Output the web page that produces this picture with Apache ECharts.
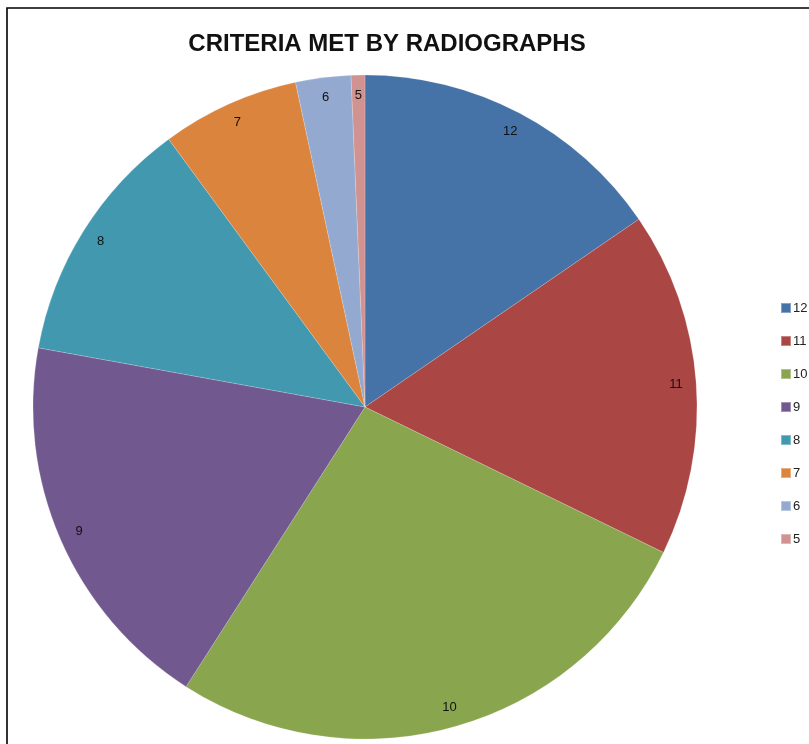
<!DOCTYPE html>
<html><head><meta charset="utf-8">
<script src="https://cdn.jsdelivr.net/npm/echarts@6/dist/echarts.min.js"></script>
<style>html,body{margin:0;padding:0;background:#fff}#c{width:809px;height:744px}</style>
</head><body><div id="c"></div>
<script>
const categories = ['12','11','10','9','8','7','6','5'];
const counts = [23, 25, 40, 28, 18, 10, 4, 1];
const colors = ['#4572A7','#AA4643','#89A54E','#71588F','#4198AF','#DB843D','#93A9CF','#D19392'];
const titleText = 'CRITERIA MET BY RADIOGRAPHS';

const chart = echarts.init(document.getElementById('c'));
const R = 332;
const data = categories.map((c,i)=>({name:c, value:counts[i], itemStyle:{color:colors[i]}}));
const labelData = categories.map((c,i)=>({name:c, value:counts[i]}));
chart.setOption({
  animation:false,
  backgroundColor:'#fff',
  title:{text:titleText, left:382, top:27, textAlign:'center',
    textStyle:{fontFamily:'Liberation Sans', fontWeight:'bold', fontSize:24, color:'#111'}},
  graphic:[{type:'rect', shape:{x:7, y:8, width:900, height:900},
    style:{fill:'none', stroke:'#000', lineWidth:1.6}, silent:true, z:100}],
  legend:{orient:'vertical', left:780, top:301, padding:0, itemWidth:10, itemHeight:10, itemGap:19,
    icon:'rect',
    data:categories.map((c,i)=>({name:c, itemStyle:{color:colors[i]}})),
    textStyle:{fontFamily:'Liberation Sans', fontSize:13, color:'#222', lineHeight:14, padding:[0,0,0,-3]}},
  series:[
    {type:'pie', center:[365,407], radius:[0,R], startAngle:90, clockwise:true,
     silent:true, label:{show:false}, labelLine:{show:false},
     itemStyle:{borderColor:'rgba(255,255,255,0.35)', borderWidth:0.5},
     data:data},
    {type:'pie', center:[365,407], radius:[R*0.90, R*0.96], startAngle:90, clockwise:true,
     silent:true, itemStyle:{color:'rgba(0,0,0,0)'}, legendHoverLink:false,
     label:{show:true, position:'inside', formatter:'{b}', fontFamily:'Liberation Sans', fontSize:13, color:'#111'},
     labelLine:{show:false}, data:labelData}
  ]
});
</script></body></html>
